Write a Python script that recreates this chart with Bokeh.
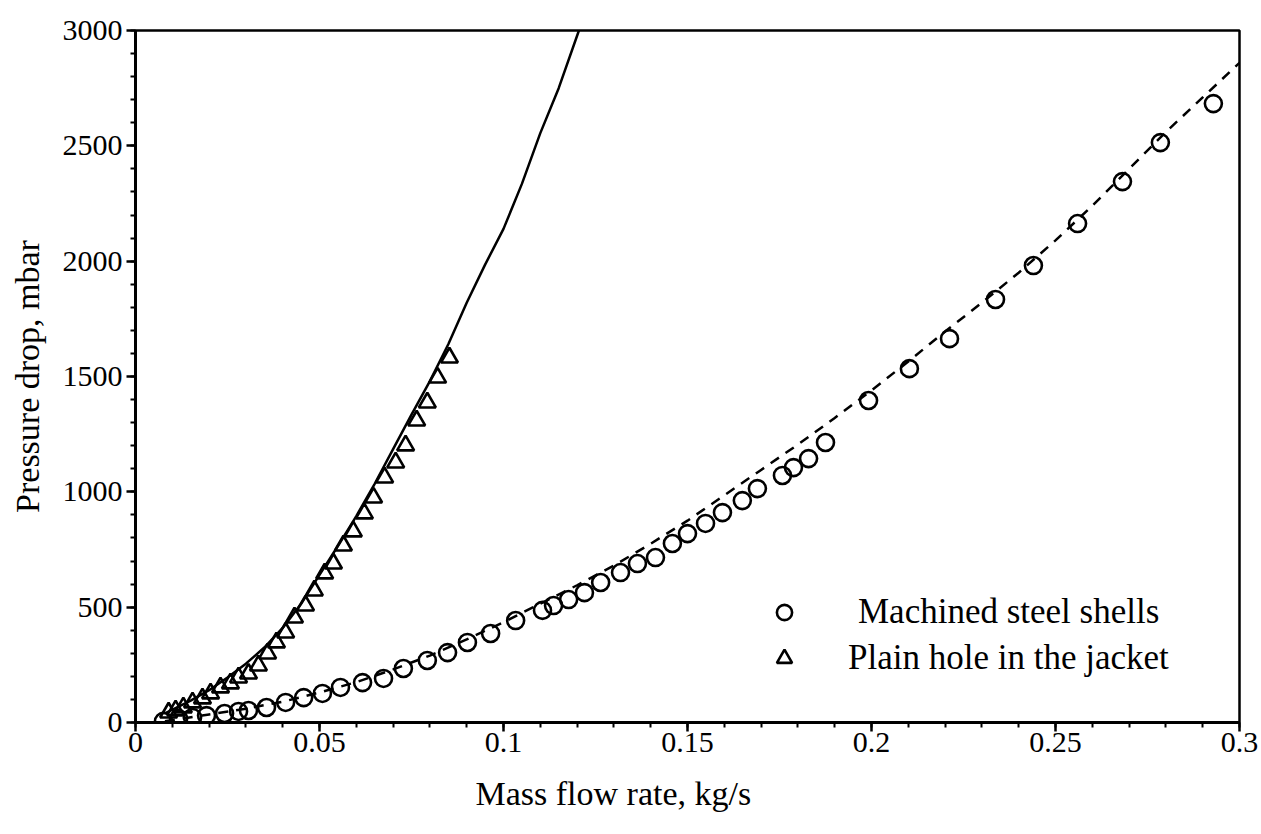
from bokeh.plotting import figure
from bokeh.models import FixedTicker, Legend, LegendItem, Title, Range1d
from bokeh.embed import file_html
from bokeh.resources import INLINE

# Machined steel shells: mass flow rate (kg/s) and pressure drop (mbar)
steel_flow = [0.0076, 0.0117, 0.0155, 0.0193, 0.0242, 0.0280, 0.0307, 0.0356,
              0.0408, 0.0457, 0.0508, 0.0557, 0.0617, 0.0674, 0.0728, 0.0793,
              0.0848, 0.0902, 0.0965, 0.1033, 0.1106, 0.1136, 0.1177, 0.1220,
              0.1264, 0.1318, 0.1364, 0.1413, 0.1459, 0.1500, 0.1549, 0.1595,
              0.1649, 0.1690, 0.1758, 0.1788, 0.1829, 0.1875, 0.1992, 0.2103,
              0.2212, 0.2337, 0.2440, 0.2560, 0.2682, 0.2785, 0.2929]
steel_dp = [5, 17, 22, 30, 39, 48, 52, 65,
            87, 108, 126, 152, 173, 191, 234, 269,
            303, 347, 386, 442, 486, 507, 533, 563,
            607, 650, 689, 715, 776, 819, 863, 910,
            962, 1014, 1071, 1105, 1144, 1214, 1396, 1534,
            1664, 1834, 1981, 2163, 2345, 2514, 2683]

# Plain hole in the jacket: mass flow rate (kg/s) and pressure drop (mbar)
hole_flow = [0.0090, 0.0109, 0.0130, 0.0155, 0.0182, 0.0204, 0.0231, 0.0258,
             0.0280, 0.0307, 0.0334, 0.0359, 0.0383, 0.0408, 0.0432, 0.0462,
             0.0486, 0.0514, 0.0538, 0.0565, 0.0592, 0.0622, 0.0647, 0.0677,
             0.0707, 0.0734, 0.0764, 0.0793, 0.0821, 0.0853]
hole_dp = [43, 52, 65, 87, 104, 126, 152, 169,
           195, 212, 247, 299, 347, 390, 455, 507,
           572, 646, 689, 767, 828, 906, 975, 1062,
           1127, 1201, 1309, 1387, 1495, 1582]

# Correlation curves
steel_fit_flow = [0.008, 0.02, 0.03, 0.04, 0.05, 0.06, 0.07, 0.08, 0.09, 0.10,
                  0.11, 0.12, 0.13, 0.14, 0.15, 0.16, 0.17, 0.18, 0.19, 0.20,
                  0.21, 0.22, 0.23, 0.24, 0.25, 0.26, 0.27, 0.28, 0.29, 0.30]
steel_fit_dp = [5, 35, 60, 90, 130, 175, 230, 290, 360, 435,
                515, 595, 680, 775, 875, 985, 1095, 1205, 1320, 1440,
                1565, 1695, 1820, 1950, 2090, 2240, 2400, 2560, 2710, 2860]

hole_fit_flow = [0.008, 0.015, 0.02, 0.025, 0.03, 0.035, 0.04, 0.045, 0.05,
                 0.055, 0.06, 0.065, 0.07, 0.075, 0.08, 0.085, 0.09, 0.095,
                 0.10, 0.105, 0.11, 0.115, 0.1205]
hole_fit_dp = [40, 95, 140, 195, 255, 325, 410, 515, 640,
               765, 895, 1035, 1185, 1335, 1480, 1640, 1820, 1985,
               2140, 2335, 2555, 2750, 3000]

x_ticks = [0, 0.05, 0.1, 0.15, 0.2, 0.25, 0.3]
x_tick_labels = ["0", "0.05", "0.1", "0.15", "0.2", "0.25", "0.3"]
y_ticks = [0, 500, 1000, 1500, 2000, 2500, 3000]
y_tick_labels = ["0", "500", "1000", "1500", "2000", "2500", "3000"]

FONT = "Liberation Serif"

p = figure(width=1261, height=834,
           x_range=Range1d(0, 0.3), y_range=Range1d(0, 3000),
           output_backend="svg", toolbar_location=None,
           min_border_left=135, min_border_right=22,
           min_border_top=30, min_border_bottom=112,
           background_fill_color="white", border_fill_color="white")

p.xgrid.visible = False
p.ygrid.visible = False
p.outline_line_color = "black"
p.outline_line_width = 2.5

p.xaxis.ticker = FixedTicker(ticks=x_ticks,
                             minor_ticks=[round(0.01 * i, 2) for i in range(31)])
p.yaxis.ticker = FixedTicker(ticks=y_ticks,
                             minor_ticks=[100 * i for i in range(31)])
p.xaxis.major_label_overrides = dict(zip(x_ticks, x_tick_labels))
p.yaxis.major_label_overrides = dict(zip(y_ticks, y_tick_labels))

for ax in (p.xaxis[0], p.yaxis[0]):
    ax.axis_line_color = "black"
    ax.axis_line_width = 3
    ax.major_tick_line_color = "black"
    ax.minor_tick_line_color = "black"
    ax.major_tick_line_width = 2.5
    ax.minor_tick_line_width = 2
    ax.major_tick_in = 0
    ax.major_tick_out = 9
    ax.minor_tick_in = 0
    ax.minor_tick_out = 5
    ax.major_label_text_font = FONT
    ax.major_label_text_font_size = "30px"
    ax.major_label_text_color = "black"

p.xaxis.major_label_standoff = 1
p.yaxis.major_label_standoff = 4

p.yaxis.axis_label = "Pressure drop, mbar"
p.yaxis.axis_label_text_font = FONT
p.yaxis.axis_label_text_font_size = "34px"
p.yaxis.axis_label_text_font_style = "normal"
p.yaxis.axis_label_text_color = "black"
p.yaxis.axis_label_standoff = 14

# x-axis title, set a little left of the frame centre
p.add_layout(Title(text="Mass flow rate, kg/s", align="left", offset=340,
                   standoff=37, text_font=FONT, text_font_size="34px",
                   text_font_style="normal", text_color="black"), "below")

# correlation curves
p.line(steel_fit_flow, steel_fit_dp, line_color="black", line_width=2.5,
       line_dash="10 8")
p.line(hole_fit_flow, hole_fit_dp, line_color="black", line_width=2.5)

# measurements
r_steel = p.scatter(steel_flow, steel_dp, marker="circle", size=17,
                    fill_color=None, line_color="black", line_width=2.6)
r_hole = p.scatter(hole_flow, hole_dp, marker="triangle", size=17,
                   fill_color=None, line_color="black", line_width=2.6)

common = dict(padding=0, margin=0, border_line_color=None,
              background_fill_alpha=0, glyph_width=38, glyph_height=38,
              label_height=46, spacing=0,
              label_text_font=FONT, label_text_font_size="35px",
              label_text_color="black", label_text_baseline="middle")

leg_steel = Legend(items=[LegendItem(label="Machined steel shells",
                                     renderers=[r_steel])],
                   location=(630, 87), label_standoff=55, **common)
leg_hole = Legend(items=[LegendItem(label="Plain hole in the jacket",
                                    renderers=[r_hole])],
                  location=(630, 41), label_standoff=45, **common)
p.add_layout(leg_steel)
p.add_layout(leg_hole)

with open("out.html", "w") as f:
    f.write(file_html(p, INLINE))
